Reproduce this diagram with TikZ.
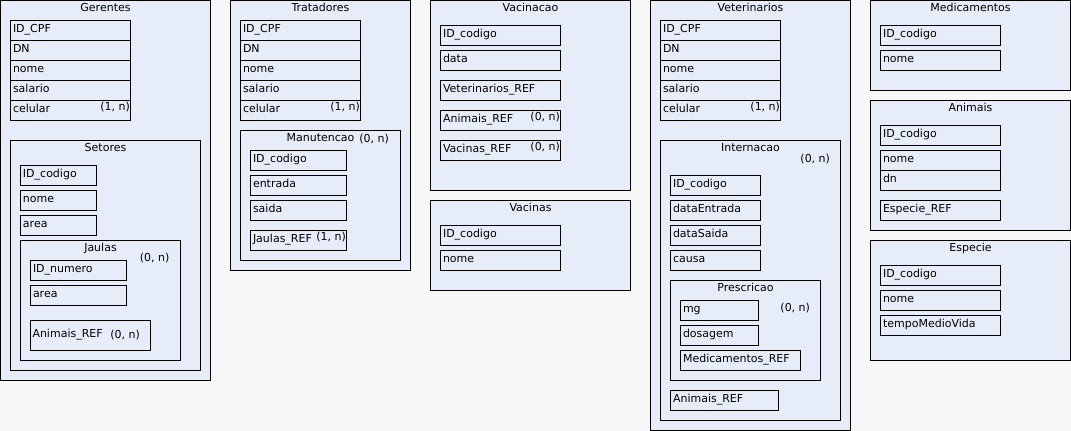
\documentclass[tikz,border=0pt]{standalone}
\usepackage{fontspec}
\setmainfont{DejaVu Sans}
\definecolor{bgc}{HTML}{F7F7F7}
\definecolor{boxc}{HTML}{E7EDF8}
\tikzset{
  ent/.style={draw=black, fill=boxc, line width=1pt, inner sep=0pt, outer sep=0pt, rectangle},
  ttl/.style={inner sep=0pt, outer sep=0pt, anchor=base, font=\fontsize{11}{13}\selectfont},
  lbl/.style={inner sep=0pt, outer sep=0pt, anchor=base west, font=\fontsize{11}{13}\selectfont},
  card/.style={inner sep=0pt, outer sep=0pt, anchor=base east, font=\fontsize{11}{13}\selectfont},
}
% entity: name, x1, y1, x2, y2, title
\newcommand\ent[6]{%
  \node[ent, minimum width={#4-#2}, minimum height={#5-#3}, anchor=north west] (#1) at ({#2+0.5},{#3+0.5}) {};
  \node[ttl] (#1-t) at ([shift={(0,11.2)}]#1.north) {#6};}
% attribute: name, x1, y1, x2, y2, text
\newcommand\att[6]{%
  \node[ent, minimum width={#4-#2}, minimum height={#5-#3}, anchor=north west] (#1) at ({#2+0.5},{#3+0.5}) {};
  \node[lbl] (#1-t) at ([shift={(2.5,12.3)}]#1.north west) {#6};}
\begin{document}
\begin{tikzpicture}[x=1pt,y=-1pt]
\useasboundingbox (0,0) rectangle (1071,431);
\fill[bgc] (0,0) rectangle (1071,431);

% ---------- Gerentes ----------
\ent{ger}{0}{0}{210}{380}{Gerentes}
\att{ger1}{10}{20}{130}{40}{ID\_CPF}
\att{ger2}{10}{40}{130}{60}{DN}
\att{ger3}{10}{60}{130}{80}{nome}
\att{ger4}{10}{80}{130}{100}{salario}
\att{ger5}{10}{100}{130}{120}{celular}
\node[card] (ger5c) at (130,110) {(1, n)};
\ent{set}{10}{140}{200}{370}{Setores}
\att{set1}{20}{165}{96}{185}{ID\_codigo}
\att{set2}{20}{190}{96}{210}{nome}
\att{set3}{20}{215}{96}{235}{area}
\ent{jau}{20}{240}{180}{360}{Jaulas}
\node[card] (jauc) at (169.5,261.5) {(0, n)};
\att{jau1}{30}{260}{126}{280}{ID\_numero}
\att{jau2}{30}{285}{126}{305}{area}
\node[ent, minimum width=120, minimum height=30, anchor=north west] (jau3) at (30.5,320.5) {};
\node[lbl] (jau3-t) at (32.5,337) {Animais\_REF};
\node[card] (jau3c) at (140,338.5) {(0, n)};

% ---------- Tratadores ----------
\ent{tra}{230}{0}{410}{270}{Tratadores}
\att{tra1}{240}{20}{360}{40}{ID\_CPF}
\att{tra2}{240}{40}{360}{60}{DN}
\att{tra3}{240}{60}{360}{80}{nome}
\att{tra4}{240}{80}{360}{100}{salario}
\att{tra5}{240}{100}{360}{120}{celular}
\node[card] (tra5c) at (360,110) {(1, n)};
\ent{man}{240}{130}{400}{260}{Manutencao}
\node[card] (manc) at (389,142) {(0, n)};
\att{man1}{250}{150}{346}{170}{ID\_codigo}
\att{man2}{250}{175}{346}{195}{entrada}
\att{man3}{250}{200}{346}{220}{saida}
\att{man4}{250}{230}{346}{250}{Jaulas\_REF}
\node[card] (man4c) at (346,240.5) {(1, n)};

% ---------- Vacinacao ----------
\ent{vac}{430}{0}{630}{190}{Vacinacao}
\att{vac1}{440}{25}{560}{45}{ID\_codigo}
\att{vac2}{440}{50}{560}{70}{data}
\att{vac3}{440}{80}{560}{100}{Veterinarios\_REF}
\att{vac4}{440}{110}{560}{130}{Animais\_REF}
\node[card] (vac4c) at (560,120) {(0, n)};
\att{vac5}{440}{140}{560}{160}{Vacinas\_REF}
\node[card] (vac5c) at (560,150) {(0, n)};

% ---------- Vacinas ----------
\ent{vcs}{430}{200}{630}{290}{Vacinas}
\att{vcs1}{440}{225}{560}{245}{ID\_codigo}
\att{vcs2}{440}{250}{560}{270}{nome}

% ---------- Veterinarios ----------
\ent{vet}{650}{0}{850}{430}{Veterinarios}
\att{vet1}{660}{20}{780}{40}{ID\_CPF}
\att{vet2}{660}{40}{780}{60}{DN}
\att{vet3}{660}{60}{780}{80}{nome}
\att{vet4}{660}{80}{780}{100}{salario}
\att{vet5}{660}{100}{780}{120}{celular}
\node[card] (vet5c) at (780,110) {(1, n)};
\ent{int}{660}{140}{840}{420}{Internacao}
\node[card] (intc) at (830,162) {(0, n)};
\att{int1}{670}{175}{760}{195}{ID\_codigo}
\att{int2}{670}{200}{760}{220}{dataEntrada}
\att{int3}{670}{225}{760}{245}{dataSaida}
\att{int4}{670}{250}{760}{270}{causa}
\ent{pre}{670}{280}{820}{380}{Prescricao}
\node[card] (prec) at (810,311.5) {(0, n)};
\att{pre1}{680}{300}{758}{320}{mg}
\att{pre2}{680}{325}{758}{345}{dosagem}
\att{pre3}{680}{350}{800}{370}{Medicamentos\_REF}
\att{int5}{670}{390}{778}{410}{Animais\_REF}

% ---------- Medicamentos ----------
\ent{med}{870}{0}{1070}{90}{Medicamentos}
\att{med1}{880}{25}{1000}{45}{ID\_codigo}
\att{med2}{880}{50}{1000}{70}{nome}

% ---------- Animais ----------
\ent{ani}{870}{100}{1070}{230}{Animais}
\att{ani1}{880}{125}{1000}{145}{ID\_codigo}
\att{ani2}{880}{150}{1000}{170}{nome}
\att{ani3}{880}{170}{1000}{190}{dn}
\att{ani4}{880}{200}{1000}{220}{Especie\_REF}

% ---------- Especie ----------
\ent{esp}{870}{240}{1070}{360}{Especie}
\att{esp1}{880}{265}{1000}{285}{ID\_codigo}
\att{esp2}{880}{290}{1000}{310}{nome}
\att{esp3}{880}{315}{1000}{335}{tempoMedioVida}
\end{tikzpicture}
\end{document}
